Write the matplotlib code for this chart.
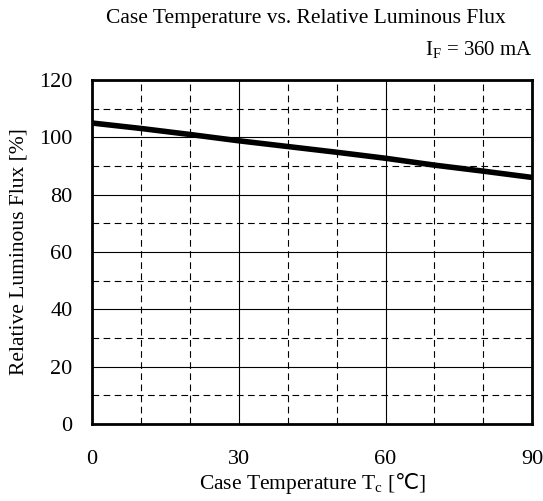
import numpy as np
import matplotlib
matplotlib.use("Agg")
from matplotlib import pyplot as plt
from matplotlib.ticker import MultipleLocator

plt.rcParams['font.family'] = ['Liberation Serif', 'DejaVu Serif']
plt.rcParams['mathtext.fontset'] = 'custom'
plt.rcParams['mathtext.rm'] = 'Liberation Serif'
plt.rcParams['mathtext.sf'] = 'DejaVu Sans'

# values
temp = [0, 10, 20, 30, 40, 50, 60, 70, 80, 90]
flux = [105, 103.1, 101.0, 98.8, 96.8, 94.8, 92.7, 90.3, 88.2, 86.0]
xticks = [0, 30, 60, 90]
yticks = [0, 20, 40, 60, 80, 100, 120]

fig = plt.figure(figsize=(5.43, 5.01), dpi=100)
ax = fig.add_axes([0.1694, 0.1537, 0.811, 0.6866])

ax.plot(temp, flux, color='black', lw=4, solid_capstyle='butt', zorder=3)

ax.set_xlim(0, 90)
ax.set_ylim(0, 120)
ax.set_xticks(xticks)
ax.set_yticks(yticks)
ax.xaxis.set_minor_locator(MultipleLocator(10))
ax.yaxis.set_minor_locator(MultipleLocator(10))
ax.grid(which='major', color='black', lw=0.8, ls='-')
ax.grid(which='minor', color='black', lw=0.8, ls=(0, (6, 4)))
ax.tick_params(which='both', length=0, labelsize=16)
ax.tick_params(axis='x', pad=19)
ax.tick_params(axis='y', pad=14)
for s in ax.spines.values():
    s.set_linewidth(2)

ax.set_xlabel('Case Temperature T$_\\mathrm{c}$ [$\\mathsf{\u2103}$]', fontsize=15.5, labelpad=1)
ax.set_ylabel('Relative Luminous Flux [%]', fontsize=15.5, labelpad=8)

fig.text(0.564, 0.964, 'Case Temperature vs. Relative Luminous Flux',
         ha='center', va='center', fontsize=15.5)
fig.text(0.982, 0.90, 'I$_\\mathrm{F}$ = 360 mA', ha='right', va='center', fontsize=15)

fig.savefig('out.png', dpi=100)
